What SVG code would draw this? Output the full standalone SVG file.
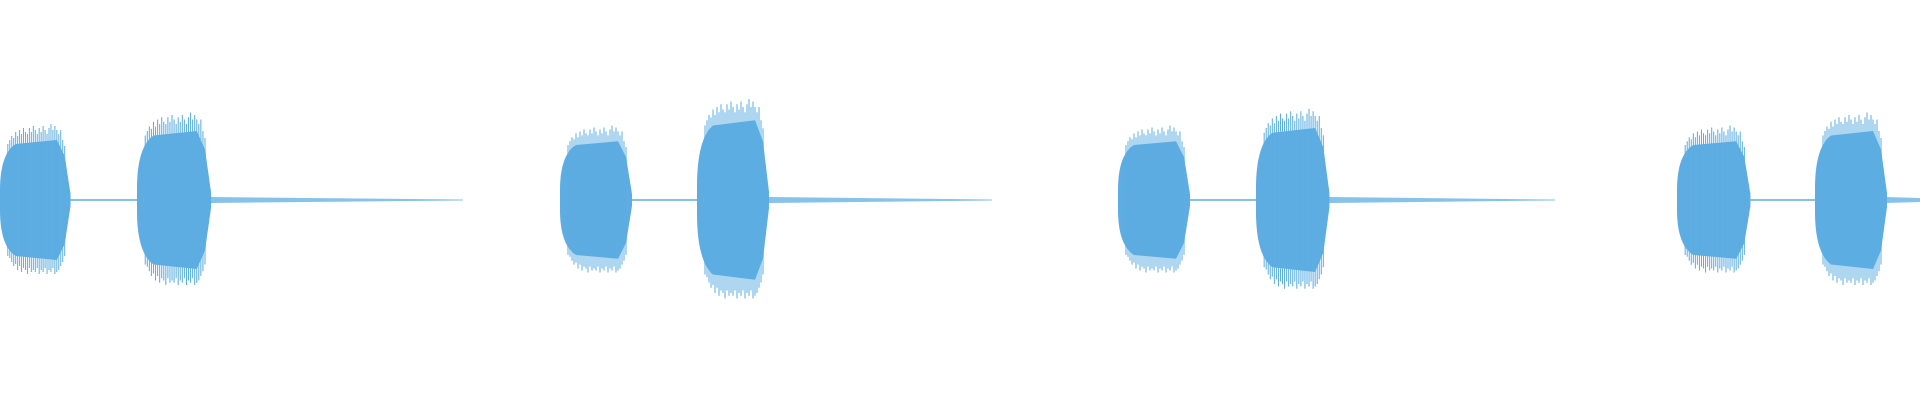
<svg xmlns="http://www.w3.org/2000/svg" width="1920" height="400" viewBox="0 0 1920 400">
<style>
.core{fill:#5dade2}
.sp{stroke:#5dade2;stroke-width:1;fill:none}
.ln{stroke:#5dade2;stroke-width:1.5}
.tail{fill:#5dade2;opacity:0.75}
</style>
<defs>
<g id="burst">
<path class="core" d="M0,-10 C0,-35 6,-50 16,-56 L58,-60 L66,-44 L72,-6 L72,6 L66,44 L58,60 L16,56 C6,50 0,35 0,10 Z"/>
<path class="sp" d="M8 -56V56 M10 -60V58 M12 -64V62 M14 -62V66 M16 -68V64 M18 -64V70 M20 -70V66 M22 -66V72 M24 -72V68 M26 -68V70 M28 -66V74 M30 -72V68 M32 -68V72 M34 -74V70 M36 -70V72 M38 -66V68 M40 -72V74 M42 -68V70 M44 -74V72 M46 -70V68 M48 -66V74 M50 -72V70 M52 -76V72 M54 -70V68 M56 -74V74 M58 -70V72 M60 -66V70 M62 -70V66 M64 -60V62 M66 -54V56"/>
</g>
</defs>
<g id="wave">
<use href="#burst" transform="translate(0,200) scale(0.98,1.0)"/>
<line class="ln" x1="70" y1="200" x2="137" y2="200"/>
<use href="#burst" transform="translate(137,200) scale(1.03,1.15)"/>
<path class="tail" d="M211,197 L463,199.5 L463,200.5 L211,203 Z"/>
<use href="#burst" transform="translate(560,200) scale(1,0.98)"/>
<line class="ln" x1="630" y1="200" x2="697" y2="200"/>
<use href="#burst" transform="translate(697,200) scale(1,1.33)"/>
<path class="tail" d="M768,197 L992,199.5 L992,200.5 L768,203 Z"/>
<use href="#burst" transform="translate(1118,200) scale(1,0.98)"/>
<line class="ln" x1="1190" y1="200" x2="1256" y2="200"/>
<use href="#burst" transform="translate(1256,200) scale(1.02,1.2)"/>
<path class="tail" d="M1329,197 L1555,199.5 L1555,200.5 L1329,203 Z"/>
<use href="#burst" transform="translate(1677,200) scale(1.02,0.98)"/>
<line class="ln" x1="1750" y1="200" x2="1815" y2="200"/>
<use href="#burst" transform="translate(1815,200) scale(1,1.15)"/>
<path class="tail" d="M1886,197 L1920,198 L1920,202 L1886,203 Z"/>
</g>
</svg>
